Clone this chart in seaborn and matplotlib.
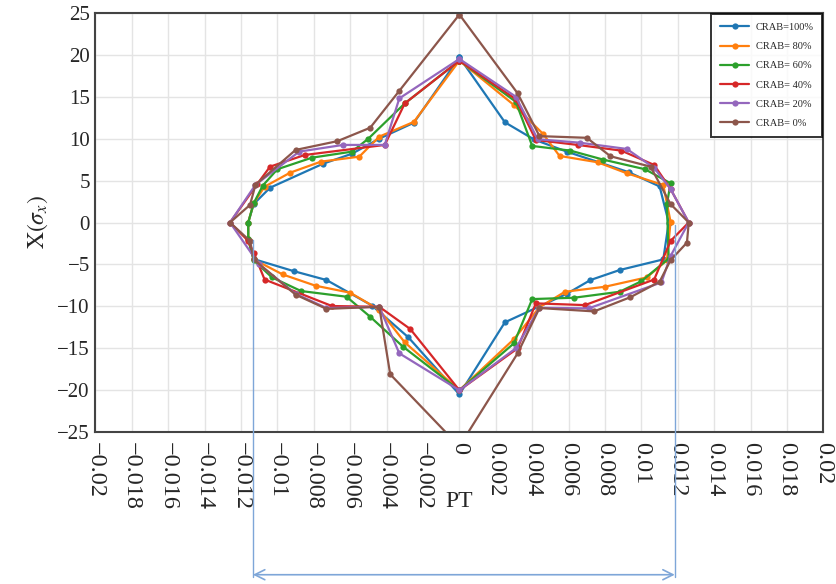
import numpy as np
import pandas as pd
import matplotlib
matplotlib.use("Agg")
import matplotlib.pyplot as plt
import seaborn as sns

# --- data (closed loops, top -> left -> bottom -> right -> top)
crab_labels = ["CRAB=100%", "CRAB= 80%", "CRAB= 60%", "CRAB= 40%", "CRAB= 20%", "CRAB= 0%"]

pt_100 = [0, -0.0025, -0.0044, -0.0059, -0.0075, -0.0104, -0.0113, -0.0116, -0.0116, -0.0113, -0.0091, -0.0073, -0.0048, -0.0028,
          0, 0.0025, 0.0059, 0.0072, 0.0088, 0.0112, 0.0115, 0.0110, 0.0093, 0.0059, 0.0041, 0.0025, 0]
x_100 = [19.7, 11.9, 10.0, 8.2, 7.0, 4.15, 2.2, 0.0, -2.0, -4.36, -5.8, -6.86, -9.9, -13.7,
         -20.5, -11.9, -8.5, -6.86, -5.67, -4.4, 0.0, 4.3, 6.0, 8.45, 9.9, 11.95, 19.7]

pt_80 = [0, -0.0025, -0.0044, -0.0055, -0.0076, -0.0093, -0.0107, -0.0113, -0.0116, -0.0116, -0.0113, -0.0097, -0.0079, -0.0060, -0.0044, -0.0030,
         0, 0.0030, 0.0044, 0.0058, 0.0080, 0.0103, 0.0114, 0.0116, 0.0112, 0.0092, 0.0076, 0.0055, 0.0046, 0.0030, 0]
x_80 = [19.3, 12.0, 10.24, 7.85, 7.26, 5.94, 4.27, 2.3, 0.0, -2.0, -4.4, -6.2, -7.54, -8.37, -10.4, -14.3,
        -20.0, -13.9, -10.1, -8.26, -7.66, -6.54, -4.5, 0.1, 4.47, 5.87, 7.18, 7.94, 10.56, 14.0, 19.3]

pt_60 = [0, -0.0030, -0.0050, -0.0059, -0.0081, -0.0100, -0.0108, -0.0113, -0.0116, -0.0116, -0.0113, -0.0103, -0.0087, -0.0062, -0.0049, -0.0031,
         0, 0.0030, 0.0040, 0.0063, 0.0088, 0.0100, 0.0115, 0.0114, 0.0116, 0.0102, 0.0079, 0.0061, 0.0040, 0.0031, 0]
x_60 = [19.3, 14.2, 10.0, 8.45, 7.73, 6.35, 4.4, 2.3, 0.0, -2.0, -4.5, -6.54, -8.17, -8.85, -11.24, -14.8,
        -20.0, -14.4, -9.13, -8.97, -8.26, -7.0, -4.3, 2.2, 4.68, 6.35, 7.5, 8.57, 9.13, 14.4, 19.3]

pt_40 = [0, -0.0030, -0.0041, -0.0085, -0.0104, -0.0111, -0.0126, -0.0116, -0.0113, -0.0107, -0.0070, -0.0044, -0.0027,
         0, 0.0032, 0.0042, 0.0069, 0.0107, 0.0116, 0.0126, 0.0116, 0.0107, 0.0089, 0.0065, 0.0042, 0.0031, 0]
x_40 = [19.3, 14.2, 9.25, 8.05, 6.66, 4.6, 0.0, -2.2, -3.6, -6.8, -9.96, -10.05, -12.7,
        -20.0, -15.0, -9.64, -9.85, -6.8, -2.2, 0.0, 4.0, 6.86, 8.57, 9.25, 9.84, 14.7, 19.3]

pt_20 = [0, -0.0033, -0.0041, -0.0064, -0.0088, -0.0112, -0.0126, -0.0110, -0.0090, -0.0073, -0.0044, -0.0033,
         0, 0.0031, 0.0044, 0.0071, 0.0111, 0.0116, 0.0126, 0.0116, 0.0107, 0.0092, 0.0066, 0.0043, 0.0031, 0]
x_20 = [19.5, 14.8, 9.25, 9.25, 8.45, 4.5, 0.0, -5.0, -8.5, -10.2, -10.05, -15.6,
        -20.0, -15.0, -10.17, -10.24, -7.14, -4.0, 0.0, 4.0, 6.5, 8.77, 9.52, 9.93, 15.0, 19.5]

pt_0 = [0, -0.0033, -0.0049, -0.0067, -0.0090, -0.0112, -0.0115, -0.0126, -0.0115, -0.0113, -0.0090, -0.0073, -0.0044, -0.0038,
        0, 0.0032, 0.0044, 0.0074, 0.0094, 0.0110, 0.0116, 0.0125, 0.0126, 0.0116, 0.0105, 0.0083, 0.0070, 0.0044, 0.0032, 0]
x_0 = [24.8, 15.7, 11.3, 9.7, 8.65, 4.5, 2.1, 0.0, -2.2, -4.4, -8.6, -10.3, -10.05, -18.1,
       -26.7, -15.6, -10.2, -10.6, -8.9, -7.06, -4.5, -2.4, 0.0, 2.2, 6.66, 7.9, 10.1, 10.3, 15.4, 24.8]

xtick_values = [-0.02, -0.018, -0.016, -0.014, -0.012, -0.01, -0.008, -0.006, -0.004, -0.002,
                0, 0.002, 0.004, 0.006, 0.008, 0.01, 0.012, 0.014, 0.016, 0.018, 0.02]
xtick_labels = ["\u22120.02", "\u22120.018", "\u22120.016", "\u22120.014", "\u22120.012", "\u22120.01",
                "\u22120.008", "\u22120.006", "\u22120.004", "\u22120.002", "0", "0.002", "0.004",
                "0.006", "0.008", "0.01", "0.012", "0.014", "0.016", "0.018", "0.02"]
ytick_values = [25, 20, 15, 10, 5, 0, -5, -10, -15, -20, -25]
ytick_labels = ["25", "20", "15", "10", "5", "0", "\u22125", "\u221210", "\u221215", "\u221220", "\u221225"]

# width markers (blue annotation)
width_left, width_right = -0.01134, 0.01183

frames = []
for lab, xs, ys in zip(crab_labels, [pt_100, pt_80, pt_60, pt_40, pt_20, pt_0],
                       [x_100, x_80, x_60, x_40, x_20, x_0]):
    frames.append(pd.DataFrame({"PT": xs, "X": ys, "case": lab, "order": range(len(xs))}))
df = pd.concat(frames, ignore_index=True)

sns.set_style("whitegrid")
plt.rcParams["font.family"] = ["Liberation Serif", "DejaVu Serif"]
plt.rcParams["mathtext.fontset"] = "stix"

fig = plt.figure(figsize=(8.36, 5.84), dpi=100)
ax = fig.add_axes([0.114, 0.260, 0.871, 0.718])

palette = sns.color_palette("tab10", 6)
sns.lineplot(data=df, x="PT", y="X", hue="case", hue_order=crab_labels, units="case",
             estimator=None, sort=False, marker="o", markersize=4.5, markeredgewidth=0,
             linewidth=1.6, palette=palette, ax=ax)

ax.set_xlim(-0.02, 0.02)
ax.set_ylim(-25, 25)
ax.set_xticks(xtick_values)
ax.set_xticklabels(xtick_labels, rotation=-90, fontsize=17.5)
ax.set_yticks(ytick_values)
ax.set_yticklabels(ytick_labels, fontsize=15)
ax.tick_params(axis="both", direction="in", length=4, color="#555555", pad=7)
ax.tick_params(axis="y", pad=4)
ax.grid(True, color="#e4e4e4", linewidth=1.0)
for side in ["left", "bottom", "top", "right"]:
    ax.spines[side].set_color("#444444")
    ax.spines[side].set_linewidth(1.5)

ax.set_xlabel("PT", fontsize=17)
ax.xaxis.set_label_coords(0.5, -0.14)
ax.set_ylabel(r"$\mathrm{X}(\sigma_x)$", fontsize=17)
ax.yaxis.set_label_coords(-0.062, 0.5)

leg = ax.legend(loc="upper right", fontsize=7.5, frameon=True, fancybox=False,
                borderaxespad=0.1, handlelength=2.8, labelspacing=0.95,
                borderpad=0.85, handletextpad=0.6)
leg.get_frame().set_edgecolor("black")
leg.get_frame().set_linewidth(1.4)

# blue width markers below the plot
line_kw = dict(color="#7ea6d8", linewidth=1.0, clip_on=False, zorder=5)
ax.plot([width_left, width_left], [-2.1, -42.3], **line_kw)
ax.plot([width_right, width_right], [-0.3, -42.3], **line_kw)
ax.annotate("", xy=(width_left, -42.0), xytext=(width_right, -42.0),
            arrowprops=dict(arrowstyle="<->", color="#7ea6d8", linewidth=1.2,
                            mutation_scale=18, shrinkA=0, shrinkB=0),
            annotation_clip=False)

fig.savefig("out.png", dpi=100)
